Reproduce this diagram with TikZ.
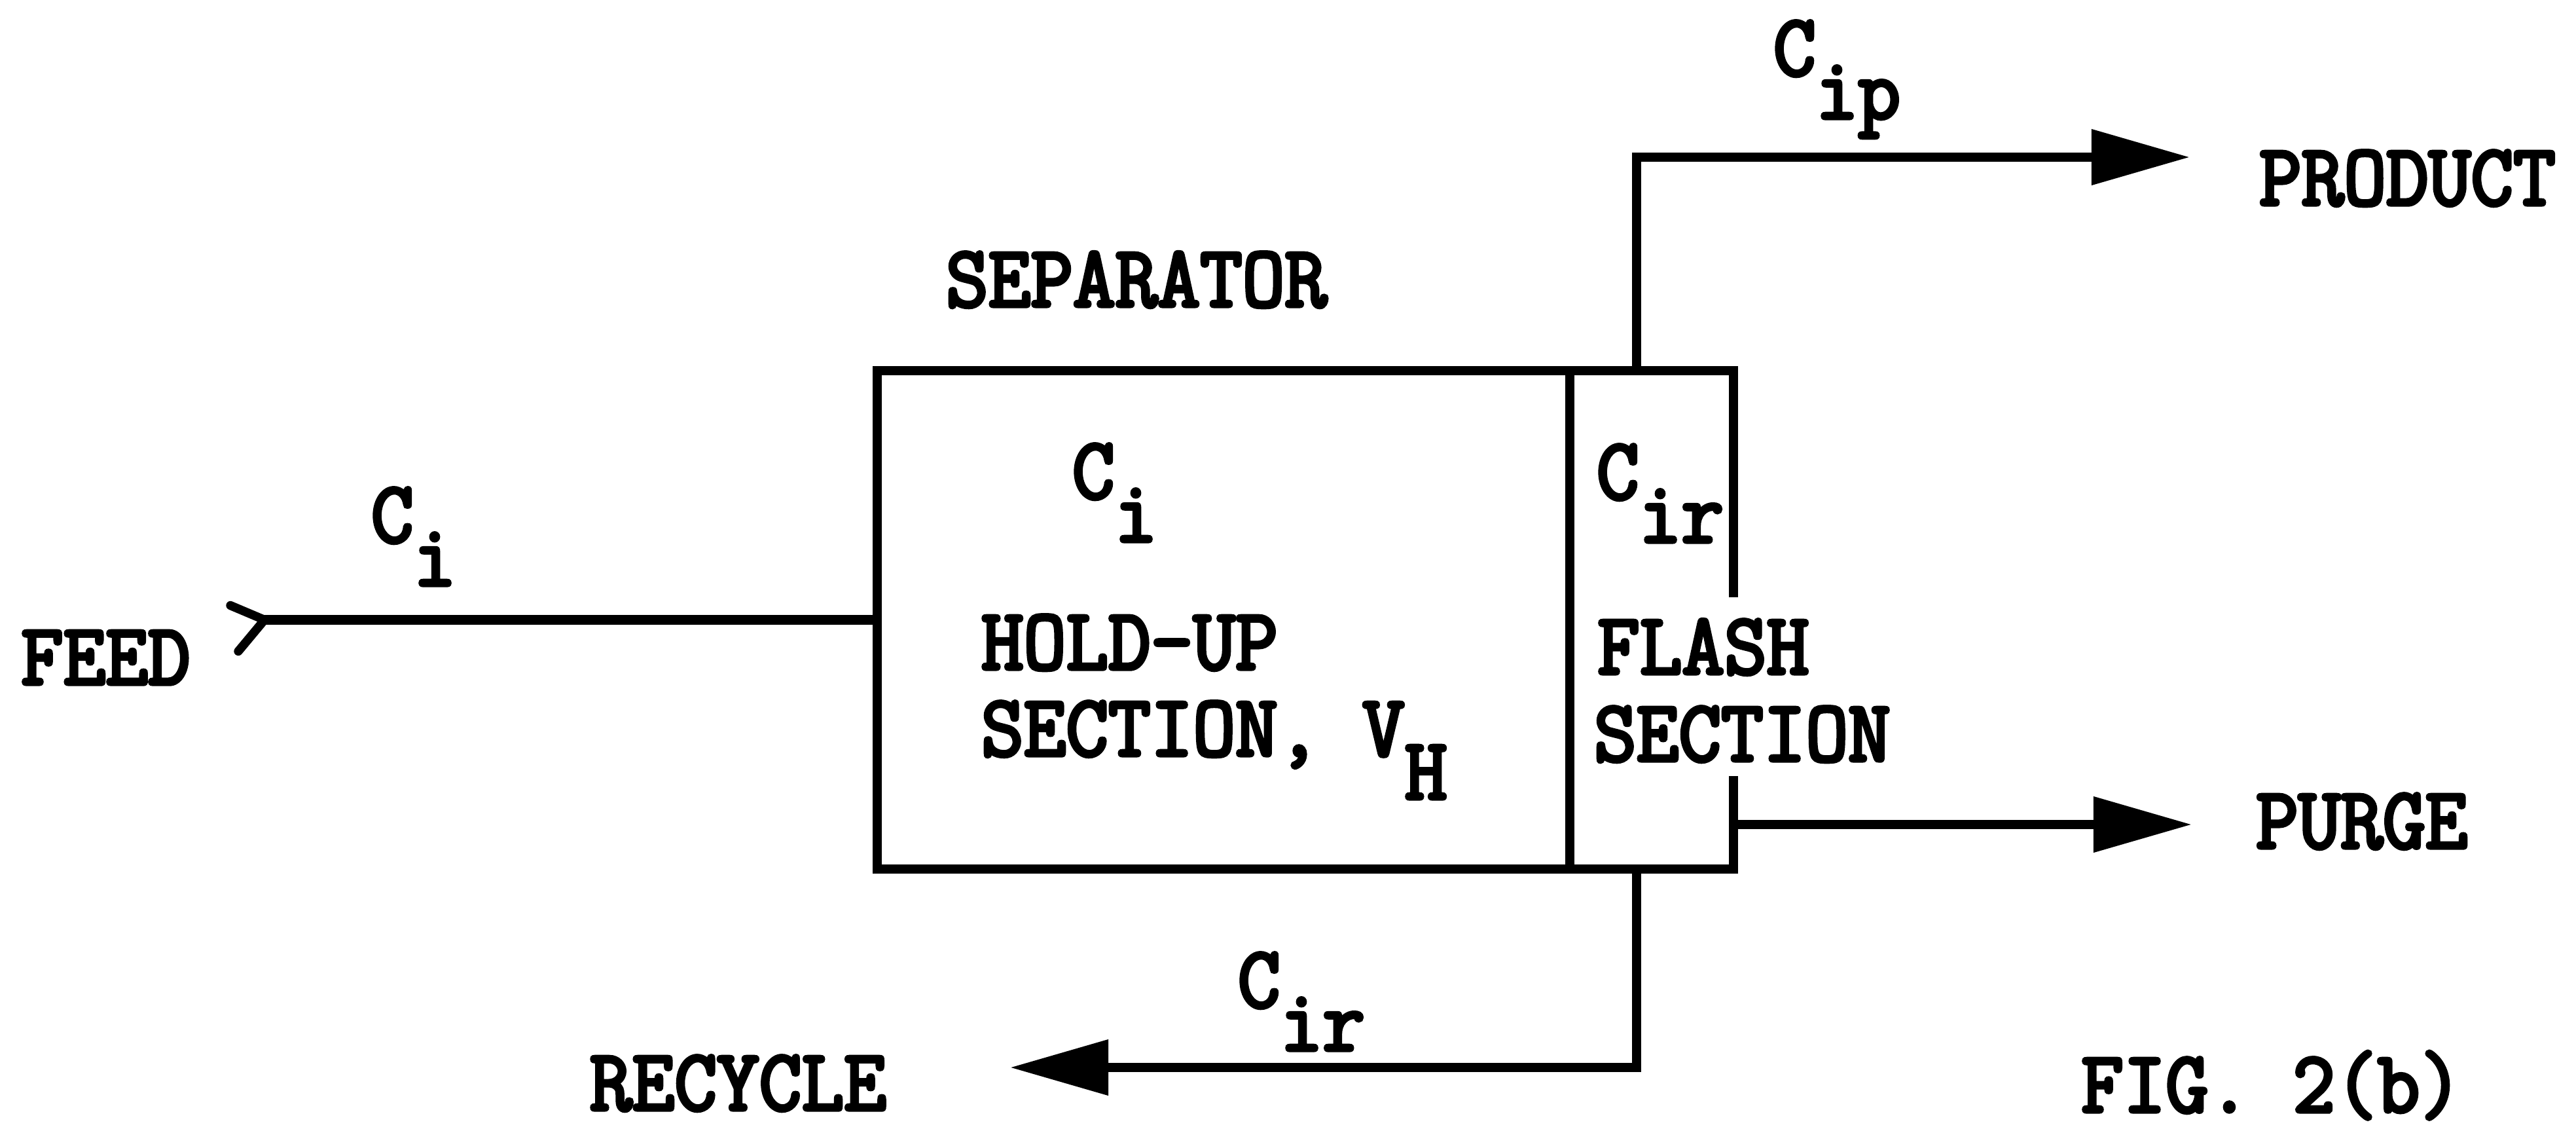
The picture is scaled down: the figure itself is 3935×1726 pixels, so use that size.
\documentclass[tikz,border=0pt]{standalone}
\usepackage{fontspec}
\newfontfamily\tw[FakeStretch=0.94, FakeBold=4]{Latin Modern Mono}
\usetikzlibrary{arrows.meta,calc}
\newcommand\lowr[1]{\raisebox{-0.66cm}{#1}}
\begin{document}
\begin{tikzpicture}[x=0.01cm,y=-0.01cm,
  thick line/.style={line width=4pt, line join=miter},
  flow/.style={line width=4pt, -{Triangle[length=1.5cm,width=0.82cm]}},
  lbl/.style={inner sep=0pt, outer sep=0pt, anchor=base west, font=\tw\fontsize{38}{42}\selectfont},
]
\useasboundingbox (0,0) rectangle (3935,1726);

% separator sections
\node[draw, thick line, minimum width=10.58cm, minimum height=7.61cm, inner sep=0pt, outer sep=0pt] (hold) at (1869,946.5) {};
\node[minimum width=2.5cm, minimum height=7.61cm, inner sep=0pt, outer sep=0pt] (flash) at (2523,946.5) {};
\draw[thick line] ([yshift=-3.46cm]flash.north east) -- (flash.north east) -- (flash.north west)
      (flash.south west) -- (flash.south east) -- ([yshift=1.42cm]flash.south east);

% free ends
\coordinate (feedin) at (404,946.5);
\coordinate (prodtip) at (3345,240);
\coordinate (purgetip) at (3348,1259);
\coordinate (rectip) at (1543,1630);

% connectors
\draw[thick line] (feedin) -- (hold.west);
\draw[line width=3.8pt, line cap=round, line join=round] ($(feedin)+(-52,-22)$) -- (feedin) -- ($(feedin)+(-40,48)$);
\draw[flow] ([xshift=-0.23cm]flash.north) |- (prodtip);
\draw[flow] (flash.south east |- purgetip) -- (purgetip);
\draw[flow] ([xshift=-0.23cm]flash.south) |- (rectip);

% labels
\node[lbl] (feed) at (32,1045) {FEED};
\node[lbl] (cfeed) at (567,828) {C\lowr{i}};
\node[lbl] (sep) at (1445,468) {SEPARATOR};
\node[lbl] (chold) at (1638,761) {C\lowr{i}};
\node[lbl] (hu1) at (1499,1022) {HOLD-UP};
\node[lbl] (hu2) at (1499,1154) {SECTION, V\lowr{H}};
\node[lbl] (cflash) at (2439,762) {C\lowr{ir}};
\node[lbl] (fl1) at (2440,1029) {FLASH};
\node[lbl] (fl2) at (2435,1162) {SECTION};
\node[lbl] (cprod) at (2709,115) {C\lowr{ip}};
\node[lbl] (prod) at (3451,313) {PRODUCT};
\node[lbl] (purge) at (3446,1295) {PURGE};
\node[lbl] (crec) at (1891,1538) {C\lowr{ir}};
\node[lbl] (rec) at (901,1695) {RECYCLE};
\node[lbl] (fig) at (3179,1698) {FIG. 2(b)};
\end{tikzpicture}
\end{document}
